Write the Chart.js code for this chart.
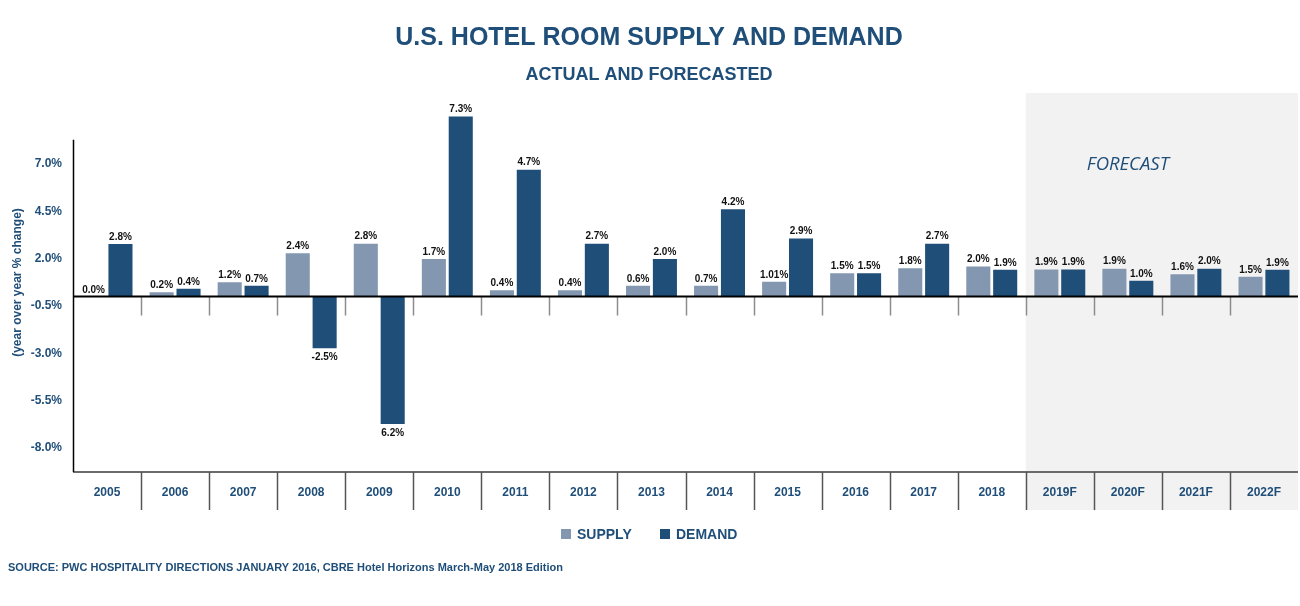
<!DOCTYPE html>
<html>
<head>
<meta charset="utf-8">
<script src="https://cdn.jsdelivr.net/npm/chart.js@4.4.1/dist/chart.umd.min.js"></script>
<style>
  html, body { margin: 0; padding: 0; background: #ffffff; }
  #wrap { position: relative; width: 1300px; height: 606px; }
</style>
</head>
<body>
<div id="wrap"><canvas id="c" width="1300" height="606"></canvas></div>
<script>
// ---- data ----
const categories = ['2005','2006','2007','2008','2009','2010','2011','2012','2013','2014','2015','2016','2017','2018','2019F','2020F','2021F','2022F'];
// bar heights as drawn against the printed axis
const supplyValues = [0.0, 0.28, 0.81, 2.34, 2.84, 2.04, 0.39, 0.39, 0.62, 0.62, 0.83, 1.28, 1.55, 1.64, 1.48, 1.52, 1.23, 1.09];
const demandValues = [2.82, 0.46, 0.62, -2.78, -6.79, 9.56, 6.75, 2.84, 2.04, 4.66, 3.12, 1.28, 2.84, 1.46, 1.48, 0.88, 1.52, 1.46];
// printed data labels
const supplyLabels = ['0.0%','0.2%','1.2%','2.4%','2.8%','1.7%','0.4%','0.4%','0.6%','0.7%','1.01%','1.5%','1.8%','2.0%','1.9%','1.9%','1.6%','1.5%'];
const demandLabels = ['2.8%','0.4%','0.7%','-2.5%','6.2%','7.3%','4.7%','2.7%','2.0%','4.2%','2.9%','1.5%','2.7%','1.9%','1.9%','1.0%','2.0%','1.9%'];
const yTickValues = [7.0, 4.5, 2.0, -0.5, -3.0, -5.5, -8.0];
const forecastStart = '2019F';
const forecastLabelAt = '2020F';

const BLUE = '#1F4E79';
const SUPPLY = '#8497B0';
const FONT = '"Liberation Sans", Arial, Helvetica, sans-serif';

const decor = {
  id: 'decor',
  beforeDraw(chart) {
    const ctx = chart.ctx, x = chart.scales.x, y = chart.scales.y, a = chart.chartArea;
    const step = x.getPixelForValue(1) - x.getPixelForValue(0);
    const fi = categories.indexOf(forecastStart);
    const fx = x.getPixelForValue(fi) - step / 2;
    ctx.save();
    ctx.fillStyle = '#F2F2F2';
    ctx.fillRect(fx, a.top, a.right - fx, x.bottom - 2 - a.top);
    // FORECAST label
    ctx.fillStyle = BLUE;
    ctx.font = 'italic 18.5px "Open Sans", sans-serif';
    ctx.textAlign = 'center';
    ctx.textBaseline = 'middle';
    ctx.fillText('FORECAST', x.getPixelForValue(categories.indexOf(forecastLabelAt)), y.getPixelForValue(7.0) + 1);
    ctx.restore();
  },
  afterDatasetsDraw(chart) {
    const ctx = chart.ctx, x = chart.scales.x, y = chart.scales.y, a = chart.chartArea;
    const step = x.getPixelForValue(1) - x.getPixelForValue(0);
    const y0 = y.getPixelForValue(0);
    ctx.save();
    // short separators below zero line
    ctx.strokeStyle = '#8C8C8C';
    ctx.lineWidth = 1.5;
    for (let i = 1; i < categories.length; i++) {
      const bx = Math.round(x.getPixelForValue(i) - step / 2) + 0.5;
      ctx.beginPath(); ctx.moveTo(bx, y0); ctx.lineTo(bx, y0 + 19); ctx.stroke();
    }
    // zero line
    ctx.strokeStyle = '#000000';
    ctx.lineWidth = 2;
    ctx.beginPath(); ctx.moveTo(a.left, y0); ctx.lineTo(a.right, y0); ctx.stroke();
    // bottom axis line
    ctx.strokeStyle = '#6B6B6B';
    ctx.lineWidth = 2;
    ctx.beginPath(); ctx.moveTo(a.left, a.bottom); ctx.lineTo(a.right, a.bottom); ctx.stroke();
    // category separators in label band
    ctx.strokeStyle = '#555555';
    ctx.lineWidth = 1.5;
    for (let i = 1; i < categories.length; i++) {
      const bx = Math.round(x.getPixelForValue(i) - step / 2) + 0.5;
      ctx.beginPath(); ctx.moveTo(bx, a.bottom); ctx.lineTo(bx, a.bottom + 38); ctx.stroke();
    }
    // left axis line
    ctx.strokeStyle = '#000000';
    ctx.lineWidth = 1.5;
    ctx.beginPath(); ctx.moveTo(a.left + 0.5, y.getPixelForValue(8.28)); ctx.lineTo(a.left + 0.5, a.bottom); ctx.stroke();

    // data labels
    ctx.font = 'bold 10px ' + FONT;
    ctx.fillStyle = '#111111';
    ctx.textAlign = 'center';
    const sets = [supplyLabels, demandLabels];
    chart.data.datasets.forEach((ds, di) => {
      const meta = chart.getDatasetMeta(di);
      meta.data.forEach((bar, i) => {
        const v = ds.data[i];
        if (v >= 0) {
          ctx.textBaseline = 'bottom';
          ctx.fillText(sets[di][i], bar.x, bar.y - 1);
        } else {
          ctx.textBaseline = 'top';
          ctx.fillText(sets[di][i], bar.x, bar.y + 3);
        }
      });
    });

    // legend
    const items = [['SUPPLY', SUPPLY, 561], ['DEMAND', BLUE, 660]];
    ctx.font = 'bold 14px ' + FONT;
    ctx.textAlign = 'left';
    ctx.textBaseline = 'middle';
    items.forEach(([t, c, lx]) => {
      ctx.fillStyle = c;
      ctx.fillRect(lx, 529, 10, 10);
      ctx.fillStyle = BLUE;
      ctx.fillText(t, lx + 16, 535);
    });

    // source
    ctx.font = 'bold 11px ' + FONT;
    ctx.fillStyle = BLUE;
    ctx.textBaseline = 'middle';
    ctx.fillText('SOURCE: PWC HOSPITALITY DIRECTIONS JANUARY 2016, CBRE Hotel Horizons March-May 2018 Edition', 8, 568);
    ctx.restore();
  }
};

new Chart(document.getElementById('c'), {
  type: 'bar',
  data: {
    labels: categories,
    datasets: [
      { label: 'SUPPLY', data: supplyValues, backgroundColor: SUPPLY, borderColor: 'rgba(255,255,255,0.45)', borderWidth: 1, categoryPercentage: 0.79, barPercentage: 0.97 },
      { label: 'DEMAND', data: demandValues, backgroundColor: BLUE, borderColor: 'rgba(255,255,255,0.35)', borderWidth: 1, categoryPercentage: 0.79, barPercentage: 0.97 }
    ]
  },
  options: {
    responsive: false,
    animation: false,
    layout: { padding: { left: 0, right: 2, top: 0, bottom: 94 } },
    plugins: {
      legend: { display: false },
      tooltip: { enabled: false },
      title: {
        display: true,
        text: 'U.S. HOTEL ROOM SUPPLY AND DEMAND',
        color: BLUE,
        font: { family: FONT, size: 25, weight: 'bold', lineHeight: 1.2 },
        padding: { top: 23, bottom: 0 }
      },
      subtitle: {
        display: true,
        text: 'ACTUAL AND FORECASTED',
        color: BLUE,
        font: { family: FONT, size: 18, weight: 'bold', lineHeight: 1.2 },
        padding: { top: 11, bottom: 7.4 }
      }
    },
    scales: {
      x: {
        grid: { display: false, drawTicks: false },
        border: { display: false },
        ticks: { color: BLUE, font: { family: FONT, size: 12, weight: 'bold' }, padding: 13, maxRotation: 0, autoSkip: false },
        afterFit(s) { s.height = 40; }
      },
      y: {
        min: -9.27,
        max: 10.75,
        grid: { display: false, drawTicks: false },
        border: { display: false },
        afterBuildTicks(s) { s.ticks = yTickValues.map(v => ({ value: v })); },
        ticks: {
          color: BLUE,
          font: { family: FONT, size: 12, weight: 'bold' },
          padding: 11,
          callback: v => v.toFixed(1) + '%'
        },
        title: {
          display: true,
          text: '(year over year % change)',
          color: BLUE,
          font: { family: FONT, size: 12, weight: 'bold' },
          padding: { top: 10, bottom: 0 }
        },
        afterFit(s) { s.width = 73; }
      }
    }
  },
  plugins: [decor]
});
</script>
</body>
</html>
